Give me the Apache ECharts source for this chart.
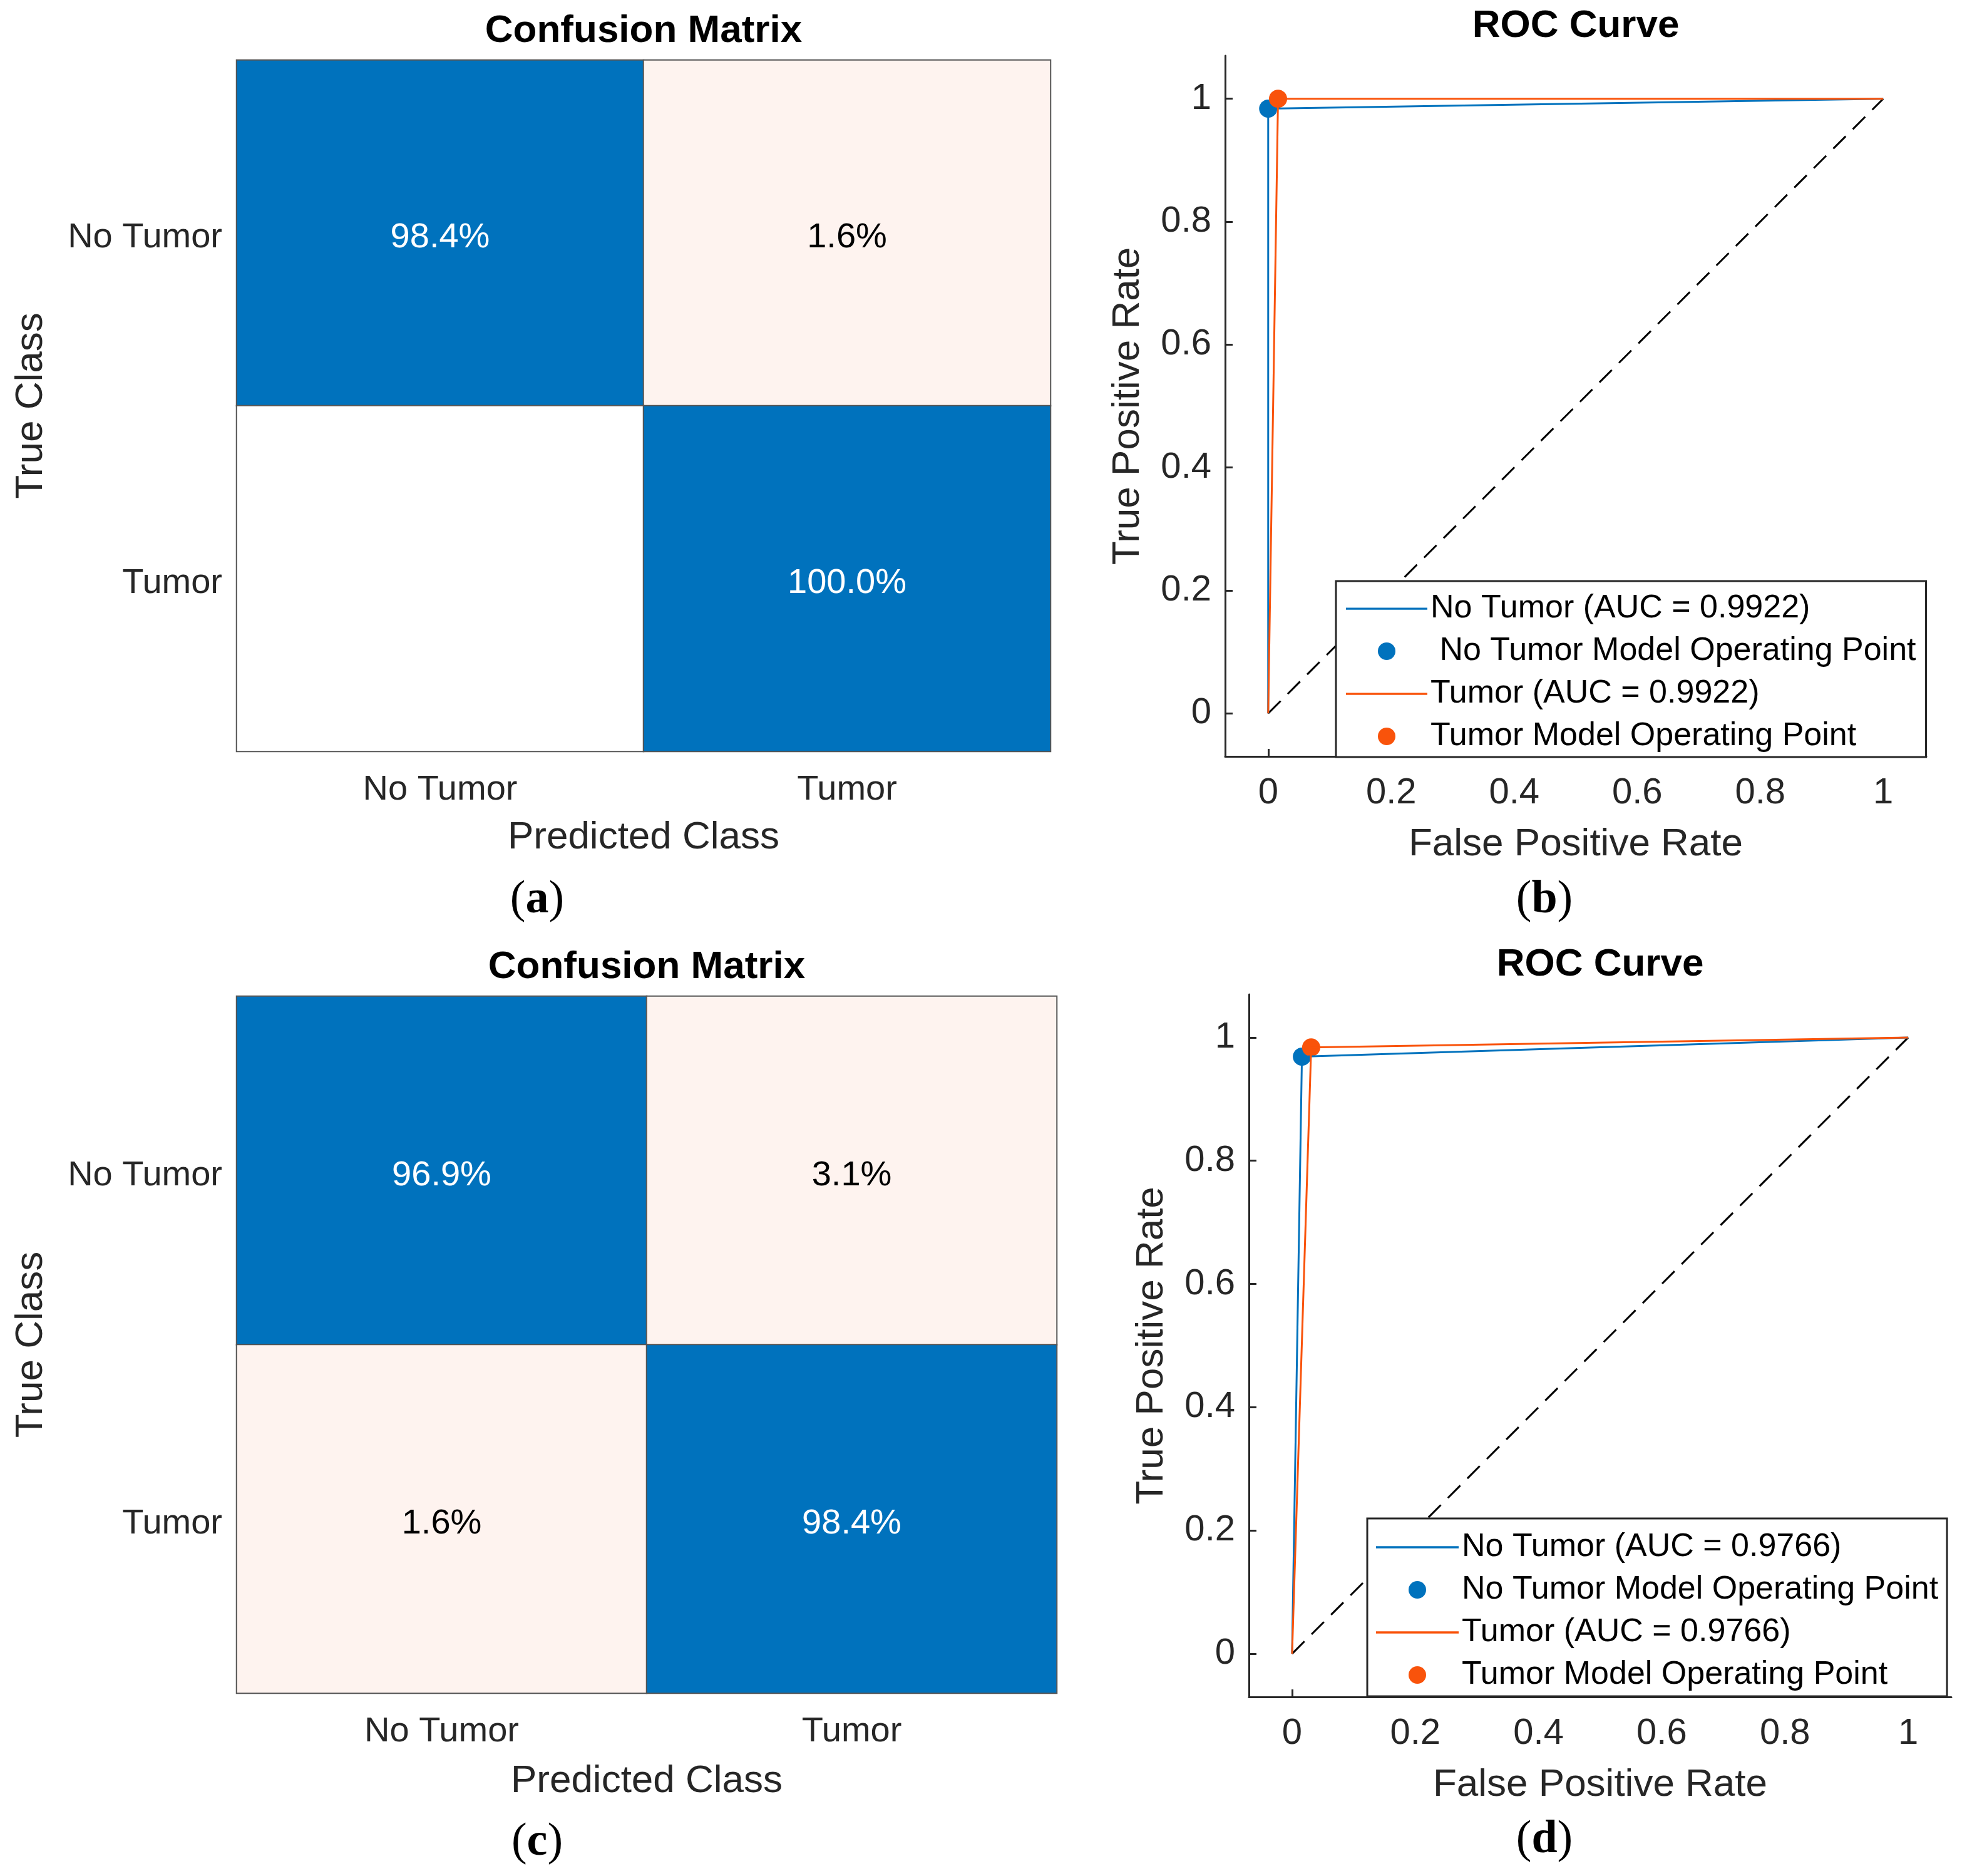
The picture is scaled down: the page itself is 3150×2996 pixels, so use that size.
<!DOCTYPE html>
<html>
<head>
<meta charset="utf-8">
<title>Confusion Matrix / ROC Curve</title>
<script src="https://cdn.jsdelivr.net/npm/echarts@6/dist/echarts.min.js"></script>
<style>
    html, body { margin: 0; padding: 0; background: #fff; }
    #chart { width: 3150px; height: 2996px; }
</style>
</head>
<body>
<div id="chart"></div>
<script>
// class names (rows = true class, columns = predicted class)
const classNames = ['No Tumor', 'Tumor'];

// confusion matrices, row normalised (%)
const cmA = [[98.4, 1.6], [0.0, 100.0]];
const cmC = [[96.9, 3.1], [1.6, 98.4]];

// ROC axis tick values
const rocTicks = [0, 0.2, 0.4, 0.6, 0.8, 1];
const chanceLine = [0, 1];

// ROC curves, panel (b)
const aucB = '0.9922';
const rocBNoTumorFpr = [0, 0, 1];
const rocBNoTumorTpr = [0, 0.984, 1];
const rocBNoTumorOp = [0, 0.984];
const rocBTumorFpr = [0, 0.016, 1];
const rocBTumorTpr = [0, 1, 1];
const rocBTumorOp = [0.016, 1];

// ROC curves, panel (d)
const aucD = '0.9766';
const rocDNoTumorFpr = [0, 0.016, 1];
const rocDNoTumorTpr = [0, 0.969, 1];
const rocDNoTumorOp = [0.016, 0.969];
const rocDTumorFpr = [0, 0.031, 1];
const rocDTumorTpr = [0, 0.984, 1];
const rocDTumorOp = [0.031, 0.984];

const BLUE = '#0072BD';
const ORANGE = '#F9530B';
const PALE = '#FEF3EF';
const AXIS = '#262626';
const FONT = '"Liberation Sans", Arial, Helvetica, sans-serif';
const SERIF = '"Liberation Serif", "Times New Roman", serif';
const LINE_ICON = 'path://M0,0H40V1H0Z';

/**
 * heatmap items from a confusion matrix
 */
const buildCmData = function (cm) {
    const items = [];
    cm.forEach(function (row, r) {
        row.forEach(function (v, c) {
            const diag = r === c;
            items.push({
                value: [c, r, v],
                itemStyle: {color: diag ? BLUE : (v > 0 ? PALE : '#ffffff')},
                label: {color: diag ? '#ffffff' : '#000000'}
            });
        });
    });
    return items;
};

const zip = function (xs, ys) {
    return xs.map(function (x, i) { return [x, ys[i]]; });
};

/**
 * confusion matrix axes
 */
const cmAxes = function (gridIndex, nameGapX) {
    const x = {
        gridIndex: gridIndex,
        type: 'category',
        data: classNames,
        axisLine: {show: false},
        axisTick: {show: false},
        splitArea: {show: false},
        axisLabel: {fontSize: 56, color: AXIS, fontFamily: FONT, margin: 34},
        name: 'Predicted Class',
        nameLocation: 'middle',
        nameGap: nameGapX,
        nameTextStyle: {fontSize: 62, color: AXIS, fontFamily: FONT}
    };
    const y = {
        gridIndex: gridIndex,
        type: 'category',
        data: classNames,
        inverse: true,
        axisLine: {show: false},
        axisTick: {show: false},
        splitArea: {show: false},
        axisLabel: {
            margin: 23,
            formatter: function (v) { return '{t|' + v + '}'; },
            rich: {t: {fontSize: 56, color: AXIS, fontFamily: FONT, padding: [16, 0, 0, 0]}}
        },
        name: 'True Class',
        nameLocation: 'middle',
        nameGap: 297,
        nameTextStyle: {fontSize: 62, color: AXIS, fontFamily: FONT}
    };
    return [x, y];
};

/**
 * ROC axes
 */
const rocAxes = function (gridIndex) {
    const common = {
        gridIndex: gridIndex,
        type: 'value',
        min: -0.07,
        max: 1.07,
        splitLine: {show: false},
        axisLine: {show: true, onZero: false, lineStyle: {color: AXIS, width: 3}},
        axisTick: {show: true, inside: true, length: 12, customValues: rocTicks, lineStyle: {color: AXIS, width: 3}},
        nameLocation: 'middle',
        nameTextStyle: {fontSize: 62, color: AXIS, fontFamily: FONT}
    };
    const x = Object.assign({}, common, {
        axisLabel: {customValues: rocTicks, fontSize: 58, color: AXIS, fontFamily: FONT, margin: 30},
        name: 'False Positive Rate',
        nameGap: 110
    });
    const y = Object.assign({}, common, {
        axisLabel: {customValues: rocTicks, fontSize: 58, color: AXIS, fontFamily: FONT, margin: 22, padding: [8, 0, 0, 0]},
        name: 'True Positive Rate',
        nameGap: 124
    });
    return [x, y];
};

/**
 * ROC series for one panel
 */
const rocSeries = function (axisIndex, auc, nFpr, nTpr, nOp, tFpr, tTpr, tOp, opPrefix) {
    const base = {xAxisIndex: axisIndex, yAxisIndex: axisIndex, animation: false};
    return [
        Object.assign({}, base, {
            type: 'line',
            name: 'chance' + axisIndex,
            data: zip(chanceLine, chanceLine),
            symbol: 'none',
            silent: true,
            lineStyle: {color: '#000', width: 3, type: [28, 16]}
        }),
        Object.assign({}, base, {
            type: 'line',
            name: 'No Tumor (AUC = ' + auc + ')',
            data: zip(nFpr, nTpr),
            symbol: 'none',
            itemStyle: {color: BLUE},
            lineStyle: {color: BLUE, width: 3}
        }),
        Object.assign({}, base, {
            type: 'scatter',
            name: opPrefix + 'No Tumor Model Operating Point',
            data: [nOp],
            symbolSize: 29,
            itemStyle: {color: BLUE, opacity: 1}
        }),
        Object.assign({}, base, {
            type: 'line',
            name: 'Tumor (AUC = ' + auc + ')',
            data: zip(tFpr, tTpr),
            symbol: 'none',
            itemStyle: {color: ORANGE},
            lineStyle: {color: ORANGE, width: 3}
        }),
        Object.assign({}, base, {
            type: 'scatter',
            name: 'Tumor Model Operating Point',
            data: [tOp],
            symbolSize: 29,
            itemStyle: {color: ORANGE, opacity: 1}
        })
    ];
};

const rocLegend = function (left, top, padding, itemWidth, auc, opPrefix) {
    return {
        orient: 'vertical',
        left: left,
        top: top,
        padding: padding,
        itemWidth: itemWidth,
        itemHeight: 28,
        itemGap: 16,
        selectedMode: false,
        backgroundColor: '#ffffff',
        borderColor: AXIS,
        borderWidth: 3,
        borderRadius: 0,
        textStyle: {fontSize: 52, lineHeight: 52, color: '#000', fontFamily: FONT},
        data: [
            {name: 'No Tumor (AUC = ' + auc + ')', icon: LINE_ICON},
            {name: opPrefix + 'No Tumor Model Operating Point', icon: 'circle'},
            {name: 'Tumor (AUC = ' + auc + ')', icon: LINE_ICON},
            {name: 'Tumor Model Operating Point', icon: 'circle'}
        ]
    };
};

const textEl = function (x, y, text, size, weight) {
    return {
        type: 'text', x: x, y: y, silent: true,
        style: {
            text: text, fill: '#000',
            font: weight + ' ' + size + 'px ' + FONT,
            align: 'center', verticalAlign: 'middle',
            textAlign: 'center', textVerticalAlign: 'middle'
        }
    };
};

const captionEl = function (x, y, letter) {
    return {
        type: 'text', x: x, y: y, silent: true,
        style: {
            text: '{p|(}{b|' + letter + '}{p|)}',
            align: 'center', verticalAlign: 'middle',
            textAlign: 'center', textVerticalAlign: 'middle',
            rich: {
                p: {fontFamily: SERIF, fontSize: 74, color: '#000'},
                b: {fontFamily: SERIF, fontSize: 74, fontWeight: 'bold', color: '#000'}
            }
        }
    };
};

const axesA = cmAxes(0, 107);
const axesB = rocAxes(1);
const axesC = cmAxes(2, 110);
const axesD = rocAxes(3);

const cmLabel = {
    show: true,
    fontSize: 56,
    fontFamily: FONT,
    offset: [0, 8],
    formatter: function (p) {
        return p.value[2] > 0 ? p.value[2].toFixed(1) + '%' : '';
    }
};

const option = {
    backgroundColor: '#ffffff',
    animation: false,
    grid: [
        {left: 378, top: 96, width: 1300, height: 1104},
        {left: 1957, top: 89, width: 1120, height: 1119},
        {left: 378, top: 1591, width: 1310, height: 1113},
        {left: 1995, top: 1588, width: 1122, height: 1122}
    ],
    xAxis: [axesA[0], axesB[0], axesC[0], axesD[0]],
    yAxis: [axesA[1], axesB[1], axesC[1], axesD[1]],
    legend: [
        rocLegend(2134, 928, [18, 16, 7, 16], 130, aucB, ' '),
        rocLegend(2184, 2425, [20, 14, 8, 14], 132, aucD, '')
    ],
    series: [
        {
            type: 'heatmap', xAxisIndex: 0, yAxisIndex: 0,
            data: buildCmData(cmA), label: cmLabel,
            itemStyle: {borderColor: '#555555', borderWidth: 2}
        },
        {
            type: 'heatmap', xAxisIndex: 2, yAxisIndex: 2,
            data: buildCmData(cmC), label: cmLabel,
            itemStyle: {borderColor: '#555555', borderWidth: 2}
        }
    ].concat(
        rocSeries(1, aucB, rocBNoTumorFpr, rocBNoTumorTpr, rocBNoTumorOp, rocBTumorFpr, rocBTumorTpr, rocBTumorOp, ' '),
        rocSeries(3, aucD, rocDNoTumorFpr, rocDNoTumorTpr, rocDNoTumorOp, rocDTumorFpr, rocDTumorTpr, rocDTumorOp, '')
    ),
    graphic: [
        textEl(1028, 50, 'Confusion Matrix', 62, 'bold'),
        textEl(2517, 42, 'ROC Curve', 62, 'bold'),
        textEl(1033, 1545, 'Confusion Matrix', 62, 'bold'),
        textEl(2556, 1541, 'ROC Curve', 62, 'bold'),
        captionEl(858, 1438, 'a'),
        captionEl(2467, 1438, 'b'),
        captionEl(858, 2943, 'c'),
        captionEl(2467, 2939, 'd')
    ]
};

const chart = echarts.init(document.getElementById('chart'));
chart.setOption(option);
</script>
</body>
</html>
